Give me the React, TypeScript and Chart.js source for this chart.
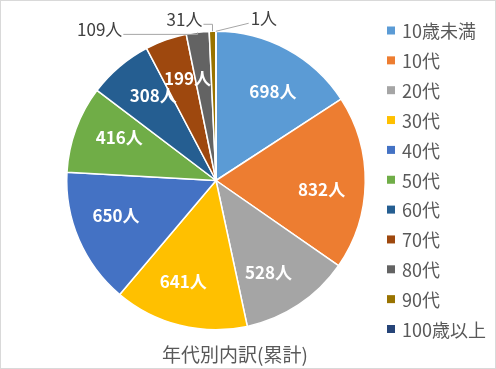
import React, { useEffect, useRef } from "react";
import { Chart, registerables } from "chart.js";

Chart.register(...registerables);

const categories = ["10歳未満", "10代", "20代", "30代", "40代", "50代", "60代", "70代", "80代", "90代", "100歳以上"];
const counts = [698, 832, 528, 641, 650, 416, 308, 199, 109, 31, 1];
const unit = "人";
const chartTitle = "年代別内訳(累計)";
const sliceColors = ["#5B9BD5", "#ED7D31", "#A5A5A5", "#FFC000", "#4472C4", "#70AD47", "#255E91", "#9E480E", "#636363", "#997300", "#264478"];

// label offsets (from slice edge) for the small slices whose labels sit outside
const outsideOffsets: Record<number, [number, number]> = { 8: [-98, -3], 9: [-28, -12], 10: [48, -13] };

const FONT = "'Noto Sans CJK JP', 'Noto Sans', sans-serif";
const LABEL_ANGLE_SHIFT = (4 * Math.PI) / 180;

const labelPlugin = {
  id: "pieLabels",
  afterDatasetsDraw(chart: any) {
    const ctx = chart.ctx as CanvasRenderingContext2D;
    const meta = chart.getDatasetMeta(0);
    ctx.save();
    ctx.textAlign = "center";
    ctx.textBaseline = "middle";
    meta.data.forEach((arc: any, i: number) => {
      const { x, y, startAngle, endAngle, outerRadius } = arc.getProps(
        ["x", "y", "startAngle", "endAngle", "outerRadius"],
        true
      );
      const mid = (startAngle + endAngle) / 2;
      const text = counts[i] + unit;
      const off = outsideOffsets[i];
      if (!off) {
        const d = outerRadius * 0.71;
        const a = mid + LABEL_ANGLE_SHIFT;
        ctx.font = "bold 17px " + FONT;
        ctx.fillStyle = "#FFFFFF";
        ctx.fillText(text, x + Math.cos(a) * d, y + Math.sin(a) * d);
      } else {
        const ax = x + Math.cos(mid) * outerRadius;
        const ay = y + Math.sin(mid) * outerRadius;
        const lx = ax + off[0];
        const ly = ay + off[1];
        ctx.font = "17px " + FONT;
        const w = ctx.measureText(text).width;
        const left = off[0] < 0;
        const attachX = left ? lx + w / 2 + 1 : lx - w / 2 - 2;
        const attachY = ly + 5;
        ctx.strokeStyle = "#A6A6A6";
        ctx.lineWidth = 1;
        ctx.beginPath();
        ctx.moveTo(attachX, attachY);
        if (left) ctx.lineTo(ax, attachY);
        ctx.lineTo(ax, ay);
        ctx.stroke();
        ctx.fillStyle = "#404040";
        ctx.fillText(text, lx, ly);
      }
    });
    ctx.restore();
  },
  afterDraw(chart: any) {
    const ctx = chart.ctx as CanvasRenderingContext2D;
    ctx.save();
    // legend
    ctx.textBaseline = "middle";
    ctx.textAlign = "left";
    ctx.font = "18px " + FONT;
    categories.forEach((c, i) => {
      const cy = 30.5 + i * 29.85;
      ctx.fillStyle = sliceColors[i];
      ctx.fillRect(387, cy - 4, 8, 8);
      ctx.fillStyle = "#595959";
      ctx.fillText(c, 402, cy + 1);
    });
    // title
    ctx.textAlign = "center";
    ctx.font = "19px " + FONT;
    ctx.fillStyle = "#595959";
    ctx.fillText(chartTitle, 235, 355);
    ctx.restore();
  },
};

export default function App() {
  const canvasRef = useRef<HTMLCanvasElement | null>(null);

  useEffect(() => {
    if (!canvasRef.current) return;
    const chart = new Chart(canvasRef.current, {
      type: "pie",
      data: {
        labels: categories,
        datasets: [
          {
            data: counts,
            backgroundColor: sliceColors,
            borderColor: "#FFFFFF",
            borderWidth: 1.5,
          },
        ],
      },
      options: {
        responsive: false,
        animation: false,
        devicePixelRatio: 1,
        layout: { padding: { left: 66, right: 130, top: 30.5, bottom: 38.5 } },
        plugins: {
          legend: { display: false },
          title: { display: false },
          tooltip: { enabled: false },
        },
      },
      plugins: [labelPlugin],
    });
    return () => chart.destroy();
  }, []);

  return (
    <div style={{ position: "fixed", left: 0, top: 0, width: 496, height: 369, background: "#FFFFFF" }}>
      <canvas ref={canvasRef} width={496} height={369} style={{ display: "block" }} />
      <div
        style={{
          position: "absolute",
          inset: 0,
          border: "1px solid #D9D9D9",
          pointerEvents: "none",
        }}
      />
    </div>
  );
}
